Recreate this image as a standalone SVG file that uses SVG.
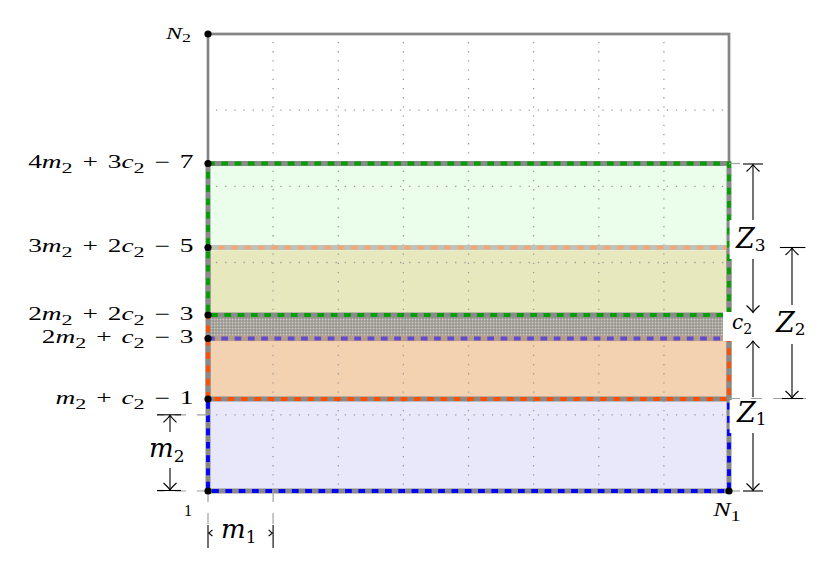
<svg xmlns="http://www.w3.org/2000/svg" width="831" height="565" viewBox="0 0 831 565">
<style>
.t{font-family:"DejaVu Serif","Liberation Serif",serif;fill:#000}
.l{font-family:"Liberation Serif","DejaVu Serif",serif;fill:#000}
.i{font-style:italic}
.grid{stroke:#9a9a9a;stroke-width:1.3;fill:none;stroke-dasharray:1.3 7.9;stroke-dashoffset:1.3}
.under{fill:none;stroke:#8a8a8a;stroke-width:5}
.dash{fill:none;stroke-width:3.8;stroke-dasharray:6.7 6.6}
.ext{stroke:#a0a0a0;stroke-width:1.2;fill:none;stroke-dasharray:11 11}
.dim{stroke:#000;stroke-width:1.1;fill:none}
.dimA{stroke:#000;stroke-width:1.1;fill:none;marker-end:url(#ah)}
.dot{fill:#000}
.wb{fill:#fff}
</style>
<defs>
<marker id="ah" markerUnits="userSpaceOnUse" viewBox="-10 -8 12 16" markerWidth="12" markerHeight="16" refX="0" refY="0" orient="auto" overflow="visible">
<path d="M-7,-6.5 Q-2.5,-1.5 0,0 Q-2.5,1.5 -7,6.5" fill="none" stroke="#000" stroke-width="1.1"/>
</marker>
<pattern id="hatch" patternUnits="userSpaceOnUse" width="3" height="3">
<rect width="3" height="3" fill="#8e8c88"/>
<rect x="0.6" y="0.6" width="1.9" height="1.9" fill="#d2cdc4"/>
</pattern>
</defs>

<g id="fills">
<rect x="208" y="163.5" width="521" height="84" fill="#ebfdeb"/>
<rect x="208" y="247.5" width="521" height="67.5" fill="#e8e8bf"/>
<rect x="208" y="315" width="515" height="23.5" fill="url(#hatch)"/>
<rect x="208" y="338.5" width="521" height="60.5" fill="#f2d2b1"/>
<rect x="208" y="399" width="521" height="92" fill="#e8e8fa"/>
</g>

<g id="grid">
<path class="grid" d="M273.1,34V491M338.3,34V491M403.4,34V491M468.5,34V491M533.6,34V491M598.8,34V491M663.9,34V491"/>
<path class="grid" d="M208,110.2H729M208,186.3H729M208,262.5H729M208,338.7H729M208,414.8H729"/>
</g>

<g id="outer">
<rect x="208" y="34" width="521" height="457" fill="none" stroke="#858585" stroke-width="2.7"/>
</g>

<g id="Z1">
<rect class="under" x="208" y="338.5" width="521" height="152.5"/>
<rect class="dash" x="208" y="338.5" width="521" height="152.5" stroke="#0000ff"/>
</g>
<g id="Z2">
<rect class="under" x="208" y="247.5" width="521" height="151.5"/>
<rect class="dash" x="208" y="247.5" width="521" height="151.5" stroke="#ff4f00" stroke-dashoffset="3.3"/>
</g>
<g id="Z3">
<rect class="under" x="208" y="163.5" width="521" height="151.5"/>
<rect class="dash" x="208" y="163.5" width="521" height="151.5" stroke="#00a000"/>
</g>
<g id="tints">
<rect x="210.6" y="244.5" width="516" height="6" fill="#ebfdeb" opacity="0.5"/>
<rect x="210.6" y="335.5" width="516" height="6" fill="#f5b88a" opacity="0.4"/>
</g>

<g id="connectors">
<path class="ext" d="M729,163.5H743"/>
<path class="ext" d="M729,247.5H812"/>
<path class="ext" d="M729,398.5H812"/>
<path class="ext" d="M729,491H743"/>
<path class="ext" d="M208,414.8H157"/>
<path class="ext" d="M208,491H157"/>
<path class="ext" d="M208,491V525"/>
<path class="ext" d="M273.1,491V525"/>
</g>

<g id="labelboxes">
<rect class="wb" x="729.6" y="220" width="50" height="39"/>
<rect class="wb" x="723" y="312" width="42" height="29"/>
<rect class="wb" x="729.6" y="400" width="47" height="33"/>
<rect class="wb" x="774" y="305" width="37" height="39"/>
</g>

<g id="dimZ3">
<path class="dim" d="M743,164H763"/>
<path class="dimA" d="M753,220V164.5"/>
<path class="dimA" d="M753,259V312.5"/>
<text class="t" y="248"><tspan class="i" font-size="27" x="736">Z</tspan><tspan font-size="17" dy="3">3</tspan></text>
</g>
<g id="dimC2">
<text class="t" y="329"><tspan class="i" font-size="20" x="732">c</tspan><tspan font-size="14" dy="5">2</tspan></text>
</g>
<g id="dimZ1">
<path class="dimA" d="M753,397V341"/>
<path class="dimA" d="M753,433V490.5"/>
<path class="dim" d="M743,491H763"/>
<text class="t" y="422"><tspan class="i" font-size="27" x="737">Z</tspan><tspan font-size="17" dy="3">1</tspan></text>
</g>
<g id="dimZ2">
<path class="dim" d="M780,247.5H805"/>
<path class="dim" d="M782,398.5H803"/>
<path class="dimA" d="M792,305V248"/>
<path class="dimA" d="M792,344V398"/>
<text class="t" y="332"><tspan class="i" font-size="27" x="776">Z</tspan><tspan font-size="17" dy="3">2</tspan></text>
</g>
<g id="dimM2">
<path class="dim" d="M157,414.8H181"/>
<path class="dim" d="M157,490.5H181"/>
<path class="dimA" d="M170,432V415.3"/>
<path class="dimA" d="M170,468V490"/>
<text class="t" y="457"><tspan class="i" font-size="26" x="149">m</tspan><tspan font-size="17" dy="5">2</tspan></text>
</g>
<g id="dimM1">
<path class="dim" d="M208,525V548M273.1,525V548"/>
<path class="dim" d="M212.5,529.8Q209.8,532.3 208.8,533Q209.8,533.7 212.5,536.2"/>
<path class="dim" d="M268.6,529.8Q271.3,532.3 272.3,533Q271.3,533.7 268.6,536.2"/>
<text class="t" y="538"><tspan class="i" font-size="26" x="221">m</tspan><tspan font-size="17" dy="5">1</tspan></text>
</g>

<g id="points">
<circle class="dot" cx="208" cy="34" r="3.6"/>
<circle class="dot" cx="208" cy="163.5" r="3.6"/>
<circle class="dot" cx="208" cy="247.5" r="3.6"/>
<circle class="dot" cx="208" cy="315" r="3.6"/>
<circle class="dot" cx="208" cy="338.5" r="3.6"/>
<circle class="dot" cx="208" cy="399" r="3.6"/>
<circle class="dot" cx="208" cy="491" r="3.6"/>
<circle class="dot" cx="729" cy="491" r="3.6"/>
</g>

<g id="leftlabels">
<text class="l" font-size="16" text-anchor="end" transform="translate(191,38.5) scale(1.5,1)"><tspan class="i">N</tspan><tspan font-size="12" dy="3">2</tspan></text>
<text class="l" font-size="18" text-anchor="end" transform="translate(193.5,168) scale(1.52,1)">4<tspan class="i">m</tspan><tspan font-size="14.5" dy="5">2</tspan><tspan dy="-5" dx="6.5">+</tspan><tspan dx="6.5">3</tspan><tspan class="i">c</tspan><tspan font-size="14.5" dy="5">2</tspan><tspan dy="-5" dx="6.5">−</tspan><tspan dx="6.5">7</tspan></text>
<text class="l" font-size="18" text-anchor="end" transform="translate(193.5,252) scale(1.52,1)">3<tspan class="i">m</tspan><tspan font-size="14.5" dy="5">2</tspan><tspan dy="-5" dx="6.5">+</tspan><tspan dx="6.5">2</tspan><tspan class="i">c</tspan><tspan font-size="14.5" dy="5">2</tspan><tspan dy="-5" dx="6.5">−</tspan><tspan dx="6.5">5</tspan></text>
<text class="l" font-size="18" text-anchor="end" transform="translate(193.5,319.5) scale(1.52,1)">2<tspan class="i">m</tspan><tspan font-size="14.5" dy="5">2</tspan><tspan dy="-5" dx="6.5">+</tspan><tspan dx="6.5">2</tspan><tspan class="i">c</tspan><tspan font-size="14.5" dy="5">2</tspan><tspan dy="-5" dx="6.5">−</tspan><tspan dx="6.5">3</tspan></text>
<text class="l" font-size="18" text-anchor="end" transform="translate(193.5,343) scale(1.52,1)">2<tspan class="i">m</tspan><tspan font-size="14.5" dy="5">2</tspan><tspan dy="-5" dx="6.5">+</tspan><tspan class="i" dx="6.5">c</tspan><tspan font-size="14.5" dy="5">2</tspan><tspan dy="-5" dx="6.5">−</tspan><tspan dx="6.5">3</tspan></text>
<text class="l" font-size="18" text-anchor="end" transform="translate(193.5,403.5) scale(1.52,1)"><tspan class="i">m</tspan><tspan font-size="14.5" dy="5">2</tspan><tspan dy="-5" dx="6.5">+</tspan><tspan class="i" dx="6.5">c</tspan><tspan font-size="14.5" dy="5">2</tspan><tspan dy="-5" dx="6.5">−</tspan><tspan dx="6.5">1</tspan></text>
<text class="l" font-size="16" text-anchor="middle" x="188" y="516">1</text>
<text class="l" font-size="18" text-anchor="middle" transform="translate(727,515.5) scale(1.45,1)"><tspan class="i">N</tspan><tspan font-size="14" dy="5">1</tspan></text>
</g>
</svg>
